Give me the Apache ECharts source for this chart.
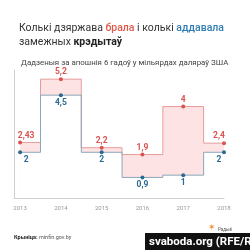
<!DOCTYPE html>
<html>
<head>
<meta charset="utf-8">
<script src="https://cdn.jsdelivr.net/npm/echarts@6/dist/echarts.min.js"></script>
<style>
  html, body { margin: 0; padding: 0; background: #fff; }
  #chart { width: 250px; height: 250px; }
</style>
</head>
<body>
<div id="chart"></div>
<script>
const years = [2013, 2014, 2015, 2016, 2017, 2018];
const borrowed = [2.43, 5.2, 2.2, 1.9, 4, 2.4];   // брала
const repaid = [2, 4.5, 2, 0.9, 1, 2];            // аддавала

const RED = "#d9534f";
const BLUE = "#2c6a93";
const font = "Roboto, 'Noto Sans', sans-serif";

const comma = v => String(v).replace(".", ",");
// first and last labels are nudged inward so they don't hit the edges
const pairs = arr => arr.map((v, i) => {
  const item = { value: [years[i], v] };
  if (i === 0) item.label = { offset: [6, 0] };
  if (i === arr.length - 1) item.label = { offset: [-5, 0] };
  return item;
});

const chart = echarts.init(document.getElementById("chart"));

chart.setOption({
  animation: false,
  title: [
    {
      left: 14, top: 16,
      text: "{a|Колькі дзяржава }{r|брала}{a| і колькі }{b|аддавала}\n{a|замежных }{k|крэдытаў}",
      textStyle: {
        fontWeight: "normal",
        lineHeight: 14,
        rich: {
          a: { fontFamily: font, fontSize: 10.5, color: "#333", fontWeight: "normal", lineHeight: 14 },
          r: { fontFamily: font, fontSize: 10.5, color: "#e2594b", fontWeight: 500, lineHeight: 14 },
          b: { fontFamily: font, fontSize: 10.5, color: "#2f7cb4", fontWeight: 500, lineHeight: 14 },
          k: { fontFamily: font, fontSize: 10.5, color: "#222", fontWeight: "bold", lineHeight: 14 }
        }
      }
    },
    {
      left: 16, top: 54,
      text: "Дадзеныя за апошнія 6 гадоў у мільярдах даляраў ЗША",
      textStyle: { fontFamily: font, fontSize: 7.9, color: "#444", fontWeight: "normal" }
    }
  ],
  grid: { left: 14, right: 26, top: 70, bottom: 52 },
  xAxis: {
    type: "value",
    min: 2012.85,
    max: 2018,
    z: 10,
    splitLine: { show: false },
    axisTick: { show: false },
    axisLine: { show: true, lineStyle: { color: "#d0d0d0", width: 1 } },
    axisLabel: {
      customValues: years,
      color: "#999", fontSize: 6, fontFamily: font, margin: 7,
      formatter: v => String(v)
    }
  },
  yAxis: {
    type: "value",
    min: 0,
    max: 5.6,
    z: 10,
    splitLine: { show: false },
    axisTick: { show: false },
    axisLabel: { show: false },
    axisLine: { show: true, lineStyle: { color: "#d0d0d0", width: 1 } }
  },
  series: [
    {
      // pink band: fill under borrowed...
      type: "line", step: "middle",
      data: pairs(borrowed),
      symbol: "none", lineStyle: { opacity: 0 },
      areaStyle: { color: "#fde3e3", opacity: 1 }, silent: true, z: 1
    },
    {
      // ...then cut out everything under repaid
      type: "line", step: "middle",
      data: pairs(repaid),
      symbol: "none", lineStyle: { opacity: 0 },
      areaStyle: { color: "#ffffff", opacity: 1 }, silent: true, z: 1
    },
    {
      type: "line", step: "middle",
      data: pairs(borrowed),
      lineStyle: { color: "#e69c9c", width: 1 },
      symbol: "circle", symbolSize: 4,
      itemStyle: { color: RED },
      label: {
        show: true, position: "top", distance: 0.5,
        color: RED, fontSize: 8.5, fontWeight: "bold", fontFamily: font,
        formatter: p => comma(p.value[1])
      },
      z: 3
    },
    {
      type: "line", step: "middle",
      data: pairs(repaid),
      lineStyle: { color: "#8ba6b9", width: 1 },
      symbol: "circle", symbolSize: 4,
      itemStyle: { color: BLUE },
      label: {
        show: true, position: "bottom", distance: 1,
        color: BLUE, fontSize: 8.5, fontWeight: "bold", fontFamily: font,
        formatter: p => comma(p.value[1])
      },
      z: 4
    }
  ],
  graphic: [
    {
      type: "text", left: 14, top: 235,
      style: {
        text: "{b|Крыніца:} minfin.gov.by",
        fill: "#555", font: "5.5px " + font,
        rich: { b: { fontWeight: "bold", fill: "#222", fontSize: 5.5, fontFamily: font } }
      }
    },
    {
      type: "rect", shape: { x: 145, y: 233, width: 105, height: 17 },
      style: { fill: "#111" }
    },
    {
      type: "text", left: 149, top: 236,
      style: { text: "svaboda.org (RFE/RL)", fill: "#fff", font: "bold 11.5px " + font }
    },
    {
      type: "text", left: 208, top: 223,
      style: { text: "✶", fill: "#f08a24", font: "9px 'DejaVu Sans'" }
    },
    {
      type: "text", left: 218, top: 227,
      style: { text: "Радыё", fill: "#555", font: "4.5px " + font }
    }
  ]
});
</script>
</body>
</html>
